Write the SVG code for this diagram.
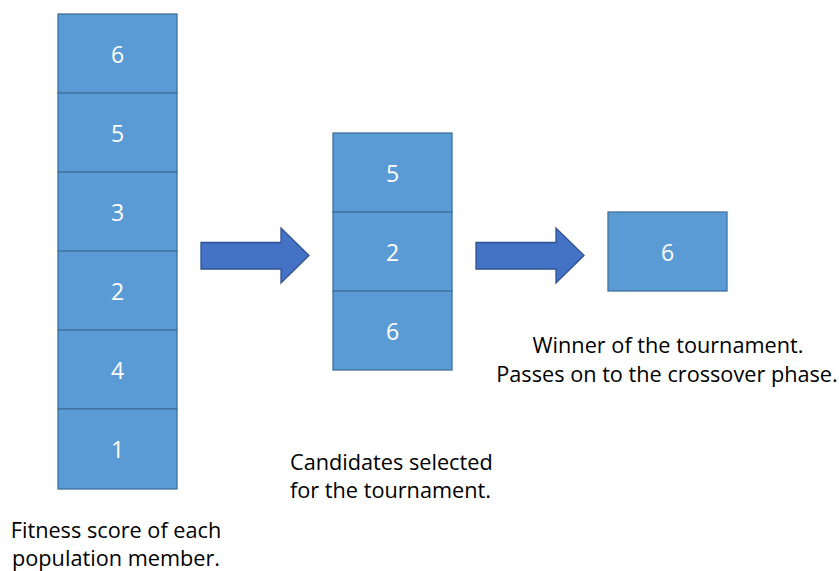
<svg xmlns="http://www.w3.org/2000/svg" width="839" height="571" viewBox="0 0 839 571">
<style>
.box{fill:#5B9BD5;stroke:#41719C;stroke-width:1.3}
.num{fill:#fff;font-family:"Open Sans","Liberation Sans",sans-serif;font-size:23px;text-anchor:middle}
.arrow{fill:#4472C4;stroke:#2F528F;stroke-width:1.3}
.cap{fill:#000;font-family:"Open Sans","Liberation Sans",sans-serif;font-size:21.7px}
</style>
<rect width="839" height="571" fill="#fff"/>
<g id="population">
<g id="p6"><rect class="box" x="58" y="14" width="119" height="79"/><text class="num" x="117.5" y="63">6</text></g>
<g id="p5"><rect class="box" x="58" y="93" width="119" height="79"/><text class="num" x="117.5" y="142">5</text></g>
<g id="p3"><rect class="box" x="58" y="172" width="119" height="79"/><text class="num" x="117.5" y="221">3</text></g>
<g id="p2"><rect class="box" x="58" y="251" width="119" height="79"/><text class="num" x="117.5" y="300">2</text></g>
<g id="p4"><rect class="box" x="58" y="330" width="119" height="79"/><text class="num" x="117.5" y="379">4</text></g>
<g id="p1"><rect class="box" x="58" y="409" width="119" height="80"/><text class="num" x="117.5" y="458">1</text></g>
</g>
<g id="candidates">
<g id="c5"><rect class="box" x="333" y="133" width="119" height="79"/><text class="num" x="392.5" y="182">5</text></g>
<g id="c2"><rect class="box" x="333" y="212" width="119" height="79"/><text class="num" x="392.5" y="261">2</text></g>
<g id="c6"><rect class="box" x="333" y="291" width="119" height="79"/><text class="num" x="392.5" y="340">6</text></g>
</g>
<g id="winner"><rect class="box" x="608" y="212" width="119" height="79"/><text class="num" x="667.5" y="261">6</text></g>
<g id="connectors">
<polygon class="arrow" points="201,242.5 281,242.5 281,228 309,255.5 281,283 281,269 201,269"/>
<polygon class="arrow" points="476,242.5 556,242.5 556,228 584,255.5 556,283 556,269 476,269"/>
</g>
<g id="labels">
<text class="cap" x="116" y="538" text-anchor="middle">Fitness score of each</text>
<text class="cap" x="116" y="566" text-anchor="middle">population member.</text>
<text class="cap" x="290" y="470">Candidates selected</text>
<text class="cap" x="290" y="498">for the tournament.</text>
<text class="cap" x="668" y="353" text-anchor="middle">Winner of the tournament.</text>
<text class="cap" x="667" y="382" text-anchor="middle">Passes on to the crossover phase.</text>
</g>
</svg>
